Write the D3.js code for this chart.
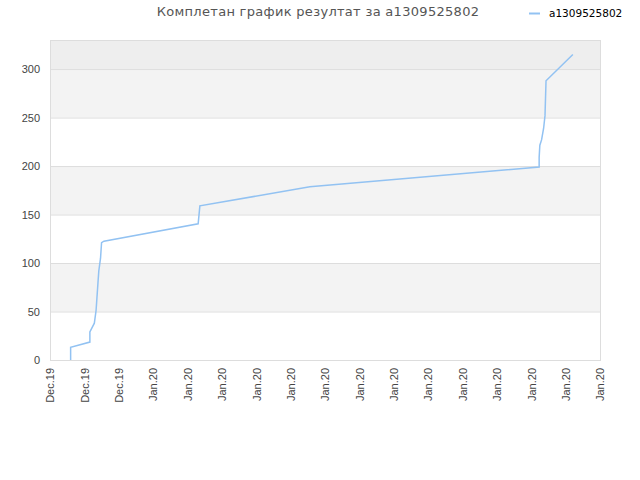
<!DOCTYPE html>
<html>
<head>
<meta charset="utf-8">
<script src="https://cdn.jsdelivr.net/npm/d3@7"></script>
<style>
  body { margin: 0; background: #fff; }
  svg { font-family: "DejaVu Sans", sans-serif; }
</style>
</head>
<body>
<div id="chart"></div>
<script>
// tick labels along the x axis (one per tick, evenly spaced)
const xTickLabels = ["Dec.19", "Dec.19", "Dec.19", "Jan.20", "Jan.20", "Jan.20", "Jan.20", "Jan.20",
    "Jan.20", "Jan.20", "Jan.20", "Jan.20", "Jan.20", "Jan.20", "Jan.20", "Jan.20", "Jan.20"];
const yTicks = [0, 50, 100, 150, 200, 250, 300];

// series position (in tick units) and cumulative result
const seriesX = [0.60, 0.60, 1.16, 1.16, 1.29, 1.34, 1.40, 1.42, 1.47, 1.50, 1.57,
    4.31, 4.36, 7.56, 14.23, 14.23, 14.25, 14.30, 14.36, 14.40, 14.43, 15.21];
const seriesY = [0, 13, 18.5, 29, 38, 51, 82, 92, 105, 121, 122.5,
    140.5, 159, 178.6, 199, 209, 221.5, 227, 239, 252, 288, 315];
const seriesName = "a1309525802";

const width = 640, height = 480;
const margin = {top: 40, right: 40, bottom: 120, left: 50};

const svg = d3.select("#chart").append("svg")
    .attr("width", width)
    .attr("height", height);

const x = d3.scaleLinear()
    .domain([0, xTickLabels.length - 1])
    .range([margin.left, width - margin.right]);

const y = d3.scaleLinear()
    .domain([0, 330])
    .range([height - margin.bottom, margin.top]);

// background bands
const bands = [];
for (let i = 0; i < yTicks.length; i++) {
    const lo = yTicks[i];
    const hi = i + 1 < yTicks.length ? yTicks[i + 1] : y.domain()[1];
    bands.push({lo, hi, i});
}
svg.append("g").selectAll("rect")
    .data(bands)
    .enter().append("rect")
    .attr("x", margin.left)
    .attr("width", width - margin.right - margin.left)
    .attr("y", d => y(d.hi))
    .attr("height", d => y(d.lo) - y(d.hi))
    .attr("fill", d => d.i === yTicks.length - 1 ? "#eeeeee" : (d.i % 2 ? "#f3f3f3" : "#ffffff"));

// gridlines
svg.append("g").selectAll("line")
    .data(yTicks.slice(1))
    .enter().append("line")
    .attr("x1", margin.left)
    .attr("x2", width - margin.right)
    .attr("y1", d => y(d) + 0.5)
    .attr("y2", d => y(d) + 0.5)
    .attr("stroke", "#dddddd");

// plot border
svg.append("rect")
    .attr("x", margin.left + 0.5)
    .attr("y", margin.top + 0.5)
    .attr("width", width - margin.right - margin.left)
    .attr("height", height - margin.bottom - margin.top)
    .attr("fill", "none")
    .attr("stroke", "#dddddd");

// y axis
const yAxis = svg.append("g")
    .attr("transform", `translate(${margin.left},0)`)
    .call(d3.axisLeft(y).tickValues(yTicks).tickSize(0).tickPadding(10));
yAxis.select(".domain").remove();
yAxis.selectAll("text")
    .attr("fill", "#444")
    .style("font-size", "11px");

// x axis
const xAxis = svg.append("g")
    .attr("transform", `translate(0,${height - margin.bottom})`)
    .call(d3.axisBottom(x)
        .tickValues(d3.range(xTickLabels.length))
        .tickFormat(i => xTickLabels[i])
        .tickSize(0));
xAxis.select(".domain").remove();
xAxis.selectAll("text")
    .attr("fill", "#444")
    .style("font-size", "11px")
    .attr("text-anchor", "end")
    .attr("transform", "rotate(-90)")
    .attr("x", -8)
    .attr("y", 0)
    .attr("dy", "0.35em");

// the line
const pts = seriesX.map((v, i) => [v, seriesY[i]]);
const line = d3.line()
    .x(d => x(d[0]))
    .y(d => y(d[1]));

svg.append("path")
    .datum(pts)
    .attr("fill", "none")
    .attr("stroke", "#92c2f2")
    .attr("stroke-width", 1.5)
    .attr("d", line);

// title
svg.append("text")
    .attr("x", 318)
    .attr("y", 16)
    .attr("text-anchor", "middle")
    .attr("fill", "#555")
    .style("font-size", "13px")
    .style("letter-spacing", "0.3px")
    .text("Комплетан график резултат за " + seriesName);

// legend
svg.append("line")
    .attr("x1", 529).attr("x2", 540)
    .attr("y1", 13.5).attr("y2", 13.5)
    .attr("stroke", "#92c2f2")
    .attr("stroke-width", 2);
svg.append("text")
    .attr("x", 549)
    .attr("y", 16.5)
    .attr("fill", "#000")
    .style("font-size", "10.5px")
    .text(seriesName);
</script>
</body>
</html>
